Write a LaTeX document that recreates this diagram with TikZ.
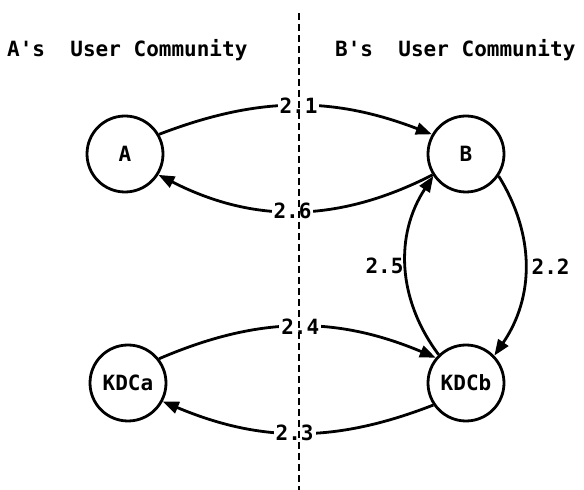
\documentclass[tikz,border=0pt]{standalone}
\usepackage{fontspec}
\setmonofont{DejaVu Sans Mono}
\usetikzlibrary{arrows.meta}
\begin{document}
\begin{tikzpicture}[x=1pt,y=1pt,
  every node/.style={font=\ttfamily\bfseries\fontsize{21}{24}\selectfont},
  station/.style={draw, circle, line width=2.8pt, minimum size=76pt, inner sep=0pt},
  flow/.style={line width=2.8pt, -{Triangle[length=16pt,width=12pt]}},
  lbl/.style={fill=white, inner sep=2pt},
  divider/.style={line width=2.8pt, dash pattern=on 7pt off 4pt}]
\useasboundingbox (0,0) rectangle (584,490);
% stations
\node[station] (A) at (125,336) {A};
\node[station] (B) at (466,336) {B};
\node[station] (KDCa) at (128,107) {KDCa};
\node[station] (KDCb) at (466,107) {KDCb};
% community titles
\node[anchor=base west, inner sep=0pt] (tA) at (7,433) {A's\ \ User Community};
\node[anchor=base west, inner sep=0pt] (tB) at (335,433) {B's\ \ User Community};
% messages
\draw[flow] (A.30) to[bend left=21] node[lbl, xshift=3pt] (m21) {2.1} (B.150);
\draw[flow] (B.-148) to[bend left=27] node[lbl, xshift=-3pt] (m26) {2.6} (A.-32);
\draw[flow] (B.-34) to[bend left=33] node[inner sep=5pt, anchor=west] (m22) {2.2} (KDCb.44);
\draw[flow] (KDCb.-146) to[bend left=22] node[lbl, xshift=-3pt] (m23) {2.3} (KDCa.-28);
\draw[flow] (KDCa.38) to[bend left=23] node[lbl, xshift=3pt] (m24) {2.4} (KDCb.140);
\draw[flow] (KDCb.134) to[bend left=35] node[inner sep=1pt, anchor=east] (m25) {2.5} (B.-146);
% divider
\coordinate (dtop) at (299,477);
\coordinate (dbot) at (299,0);
\draw[divider] (dtop) -- (dbot);
\end{tikzpicture}
\end{document}
